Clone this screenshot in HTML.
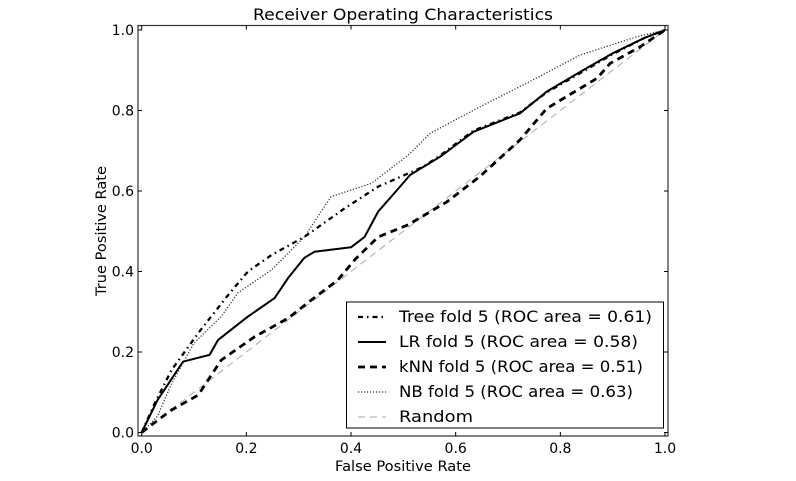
<!DOCTYPE html>
<html><head><meta charset="utf-8"><style>
body{margin:0;background:#fff;}
svg{display:block;font-family:"DejaVu Sans","Liberation Sans",sans-serif;}
</style></head><body>
<svg id="chart" width="796" height="481">
<text x="403" y="20" text-anchor="middle" font-size="16" textLength="300" lengthAdjust="spacingAndGlyphs">Receiver Operating Characteristics</text>
<text x="403" y="471" text-anchor="middle" font-size="14" textLength="136" lengthAdjust="spacingAndGlyphs">False Positive Rate</text>
<text transform="translate(106,231) rotate(-90)" text-anchor="middle" font-size="14" textLength="130" lengthAdjust="spacingAndGlyphs">True Positive Rate</text>
<g id="plot"></g>
</svg>
<script>
const xTicks=[0,0.2,0.4,0.6,0.8,1.0];
const yTicks=[0,0.2,0.4,0.6,0.8,1.0];
const treeFpr=[0,0.025,0.057,0.108,0.165,0.203,0.248,0.311,0.388,0.452,0.503,0.538,0.57,0.634,0.723,0.774,0.838,0.9,0.96,1];
const treeTpr=[0,0.073,0.155,0.247,0.341,0.40,0.441,0.486,0.557,0.611,0.64,0.66,0.688,0.75,0.795,0.845,0.893,0.94,0.98,1];
const lrFpr=[0,0.03,0.079,0.13,0.146,0.203,0.254,0.28,0.311,0.33,0.40,0.426,0.452,0.477,0.513,0.57,0.634,0.723,0.774,0.838,0.9,0.96,1];
const lrTpr=[0,0.08,0.176,0.193,0.23,0.288,0.334,0.384,0.434,0.449,0.46,0.486,0.549,0.586,0.64,0.685,0.747,0.793,0.847,0.896,0.942,0.98,1];
const knnFpr=[0,0.02,0.057,0.108,0.152,0.216,0.28,0.324,0.375,0.407,0.452,0.509,0.583,0.646,0.723,0.774,0.87,0.895,0.95,1];
const knnTpr=[0,0.02,0.056,0.093,0.18,0.238,0.284,0.329,0.379,0.429,0.486,0.516,0.573,0.636,0.727,0.805,0.88,0.917,0.956,1];
const nbFpr=[0,0.03,0.057,0.10,0.152,0.184,0.248,0.311,0.362,0.439,0.509,0.551,0.646,0.742,0.838,0.946,1];
const nbTpr=[0,0.04,0.121,0.222,0.288,0.347,0.404,0.486,0.586,0.619,0.689,0.743,0.809,0.872,0.938,0.983,1];
const randFpr=[0,1];
const randTpr=[0,1];
const legendLabels=["Tree fold 5 (ROC area = 0.61)","LR fold 5 (ROC area = 0.58)","kNN fold 5 (ROC area = 0.51)","NB fold 5 (ROC area = 0.63)","Random"];
const legendWidths=[253,239,244,234,74];

const NS="http://www.w3.org/2000/svg";
const g=document.getElementById('plot');
const X=v=>141.7+v*523.3;
const Y=v=>432.5-v*402.5;
function el(t,a,p){const e=document.createElementNS(NS,t);for(const k in a)e.setAttribute(k,a[k]);(p||g).appendChild(e);return e;}
const styles=[
 {stroke:"#000",w:2.3,dash:"5,4,1.5,4",col:"#000"},
 {stroke:"#000",w:2,dash:"",col:"#000"},
 {stroke:"#000",w:2.8,dash:"7,5",col:"#000"},
 {stroke:"#333",w:1.3,dash:"1.2,1.8",col:"#333"},
 {stroke:"#aaa",w:1,dash:"7,5",col:"#aaa"}];
const series=[[treeFpr,treeTpr],[lrFpr,lrTpr],[knnFpr,knnTpr],[nbFpr,nbTpr],[randFpr,randTpr]];
const names=["tree-roc-line","lr-roc-line","knn-roc-line","nb-roc-line","random-line"];
[4,0,1,2,3].forEach(i=>{
 const [xs,ys]=series[i];
 const d=xs.map((x,j)=>(j?"L":"M")+X(x).toFixed(1)+","+Y(ys[j]).toFixed(1)).join("");
 const p=el('path',{d:d,fill:"none",stroke:styles[i].stroke,"stroke-width":styles[i].w,"stroke-dasharray":styles[i].dash,"stroke-linejoin":"round"});
 
 
});
const fr=el('rect',{x:138,y:25.5,width:530,height:410.5,fill:"none",stroke:"#333","stroke-width":1.2});


xTicks.forEach(v=>{
 el('line',{x1:X(v),x2:X(v),y1:436,y2:432,stroke:"#000"});
 el('line',{x1:X(v),x2:X(v),y1:25.5,y2:29.5,stroke:"#000"});
 const t=el('text',{x:X(v),y:453,"text-anchor":"middle","font-size":14});
 t.textContent=v.toFixed(1);
 
 
});
yTicks.forEach(v=>{
 el('line',{x1:138,x2:142,y1:Y(v),y2:Y(v),stroke:"#000"});
 el('line',{x1:668,x2:664,y1:Y(v),y2:Y(v),stroke:"#000"});
 const t=el('text',{x:134,y:Y(v)+5,"text-anchor":"end","font-size":14});
 t.textContent=v.toFixed(1);
 
 
});
const lg=el('g',{});


el('rect',{x:346.5,y:302,width:317,height:126,fill:"#fff",stroke:"#000","stroke-width":1},lg);
legendLabels.forEach((s,i)=>{
 const yy=317+i*25;
 const row=el('g',{},lg);
 
 
 el('line',{x1:358,x2:386,y1:yy,y2:yy,stroke:styles[i].stroke,"stroke-width":styles[i].w,"stroke-dasharray":styles[i].dash},row);
 const t=el('text',{x:399,y:yy+5,"font-size":16,textLength:legendWidths[i],lengthAdjust:"spacingAndGlyphs"},row);
 t.textContent=s;
});
</script>
</body></html>
